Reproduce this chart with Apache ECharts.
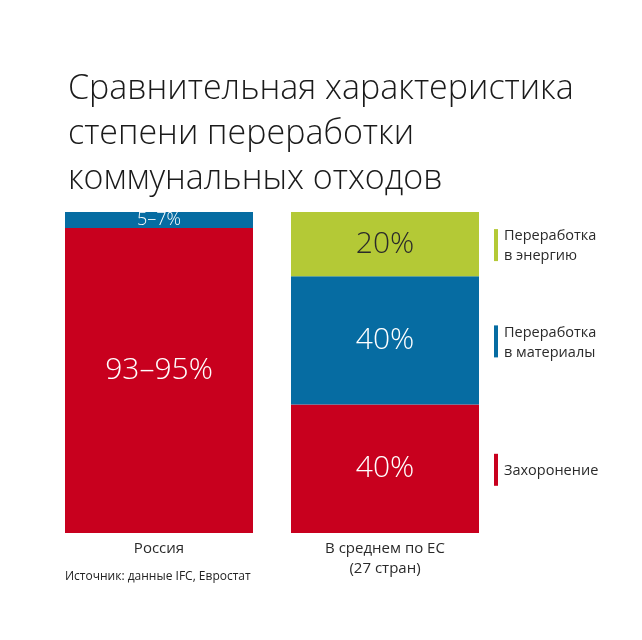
<!DOCTYPE html>
<html><head><meta charset="utf-8">
<script src="https://cdn.jsdelivr.net/npm/echarts@6/dist/echarts.min.js"></script>
<style>html,body{margin:0;padding:0;background:#fff}#c{width:642px;height:640px}</style>
</head><body><div id="c"></div>
<script>
const categories = ['Россия', 'В среднем по ЕС\n(27 стран)'];
const seriesNames = ['Захоронение', 'Переработка\nв материалы', 'Переработка\nв энергию'];
const landfill = [95, 40];
const materials = [5, 40];
const energy = [0, 20];
const landfillLabels = ['93–95%', '40%'];
const materialsLabels = ['5–7%', '40%'];
const energyLabels = ['', '20%'];
const titleText = 'Сравнительная характеристика\nстепени переработки\nкоммунальных отходов';
const sourceText = 'Источник: данные IFC, Евростат';

const colors = ['#C8001E', '#066CA2', '#B4C936'];
const FONT = '"Segoe UI", "Open Sans", "Noto Sans", sans-serif';
const values = [landfill, materials, energy];
const labels = [landfillLabels, materialsLabels, energyLabels];
const labelSizes = [[30, 30], [18, 30], [30, 30]];
const labelOffsets = [[[0, -10], [0, 0]], [[0, 0], [0, 0]], [[0, 0], [0, 0]]];
const labelColors = ['#fff', '#fff', '#2a2a2a'];

const chart = echarts.init(document.getElementById('c'), null, {renderer: 'canvas'});
const series = values.map((v, si) => ({
  name: seriesNames[si],
  type: 'bar',
  stack: 'total',
  barWidth: 188,
  data: v.map((val, di) => ({
    value: val,
    label: {fontSize: labelSizes[si][di], offset: labelOffsets[si][di]}
  })),
  itemStyle: {color: colors[si]},
  label: {
    show: true,
    position: 'inside',
    formatter: p => labels[si][p.dataIndex],
    color: labelColors[si],
    fontFamily: FONT,
    fontWeight: 300
  }
}));

chart.setOption({
  animation: false,
  backgroundColor: '#fff',
  title: {
    text: titleText,
    left: 63, top: 62,
    textStyle: {fontFamily: FONT, fontWeight: 300, fontSize: 34, lineHeight: 45, color: '#1a1a1a'}
  },
  grid: {left: 46, right: 144, top: 212, bottom: 107},
  xAxis: {
    type: 'category', data: categories,
    axisLine: {show: false}, axisTick: {show: false},
    axisLabel: {color: '#2a2a2a', fontSize: 15, lineHeight: 20, margin: 6, fontFamily: FONT, fontWeight: 400}
  },
  yAxis: {type: 'value', min: 0, max: 100, show: false, splitLine: {show: false}},
  series: series
});

// legend aligned to EU bar segments, computed via the chart's scales
const g = [];
let cum = 0;
const euIdx = 1;
values.forEach((v, si) => {
  const lo = cum, hi = cum + v[euIdx];
  cum = hi;
  const mid = chart.convertToPixel({gridIndex: 0}, [euIdx, (lo + hi) / 2]);
  const xRight = chart.convertToPixel({gridIndex: 0}, [euIdx, 0])[0] + 94 + 15;
  const h = 32;
  g.push({type: 'rect', shape: {x: xRight, y: mid[1] - h / 2 + 1, width: 4, height: h}, style: {fill: colors[si]}});
  g.push({type: 'text', x: xRight + 10, y: mid[1] + 2, style: {text: seriesNames[si], fill: '#2a2a2a', font: '400 14.5px ' + FONT, lineHeight: 20, verticalAlign: 'middle', align: 'left'}});
});
g.push({type: 'text', x: 65, y: 577, style: {text: sourceText, fill: '#222', font: '400 12px ' + FONT, verticalAlign: 'middle'}});
chart.setOption({graphic: g});
</script></body></html>
